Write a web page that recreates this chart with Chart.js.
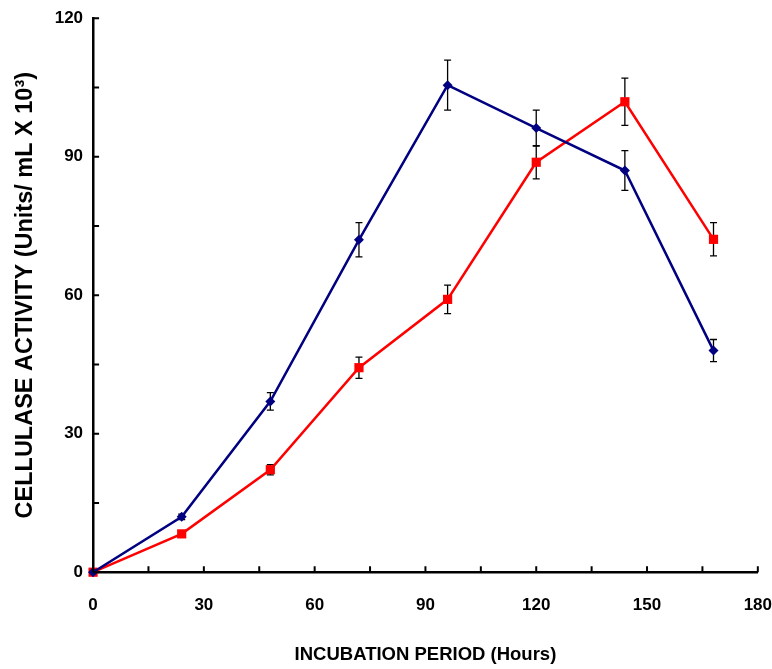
<!DOCTYPE html>
<html>
<head>
<meta charset="utf-8">
<script src="https://cdn.jsdelivr.net/npm/chart.js@4/dist/chart.umd.min.js"></script>
<style>
  html, body { margin: 0; padding: 0; background: #fff; }
  #wrap { width: 772px; height: 669px; }
</style>
</head>
<body>
<div id="wrap"><canvas id="activityChart" width="772" height="669"></canvas></div>
<script>
// Incubation time (hours)
const hours = [0, 24, 48, 72, 96, 120, 144, 168];

// Cellulase activity, two series with their error bars
const blueActivity = [0, 12, 37, 72, 105.5, 96.2, 87, 48];
const blueError = [0, 0.6, 1.9, 3.7, 5.4, 3.9, 4.3, 2.4];
const redActivity = [0, 8.3, 22.2, 44.3, 59.1, 88.8, 101.9, 72.1];
const redError = [0, 0.4, 1.1, 2.3, 3.1, 3.6, 5.1, 3.6];

// Axis ticks
const xTickLabels = [0, 30, 60, 90, 120, 150, 180];
const yTickLabels = [0, 30, 60, 90, 120];

const tickFont = { family: "'Liberation Sans', Arial, sans-serif", size: 17, weight: 'bold' };

function toPoints(values) {
    return hours.map((h, i) => ({ x: h, y: values[i] }));
}

// Error bars drawn behind the markers
const errorBars = {
    id: 'errorBars',
    beforeDatasetsDraw(chart) {
        const ctx = chart.ctx;
        const xs = chart.scales.x;
        const ys = chart.scales.y;
        const errs = [blueError, redError];
        ctx.save();
        ctx.strokeStyle = '#000';
        ctx.lineWidth = 1.3;
        chart.data.datasets.forEach((ds, d) => {
            ds.data.forEach((pt, i) => {
                const e = errs[d][i];
                if (!e) return;
                const px = xs.getPixelForValue(pt.x);
                const top = ys.getPixelForValue(pt.y + e);
                const bot = ys.getPixelForValue(pt.y - e);
                ctx.beginPath();
                ctx.moveTo(px, top); ctx.lineTo(px, bot);
                ctx.moveTo(px - 3.5, top); ctx.lineTo(px + 3.5, top);
                ctx.moveTo(px - 3.5, bot); ctx.lineTo(px + 3.5, bot);
                ctx.stroke();
            });
        });
        ctx.restore();
    }
};

// Tick marks pointing into the plot
const innerTicks = {
    id: 'innerTicks',
    afterDraw(chart) {
        const ctx = chart.ctx;
        const xs = chart.scales.x;
        const ys = chart.scales.y;
        const area = chart.chartArea;
        ctx.save();
        ctx.strokeStyle = '#000';
        ctx.lineWidth = 2;
        ctx.beginPath();
        xs.ticks.forEach(t => {
            const px = xs.getPixelForValue(t.value);
            ctx.moveTo(px, area.bottom);
            ctx.lineTo(px, area.bottom - 6);
        });
        ys.ticks.forEach(t => {
            const py = ys.getPixelForValue(t.value);
            ctx.moveTo(area.left, py);
            ctx.lineTo(area.left + 6, py);
        });
        ctx.stroke();
        ctx.restore();
    }
};

new Chart(document.getElementById('activityChart'), {
    type: 'line',
    data: {
        datasets: [{
            data: toPoints(blueActivity),
            borderColor: '#000080',
            backgroundColor: '#000080',
            borderWidth: 2.5,
            pointStyle: 'rectRot',
            pointRadius: 5,
            pointBorderWidth: 0,
            clip: false
        }, {
            data: toPoints(redActivity),
            borderColor: '#ff0000',
            backgroundColor: '#ff0000',
            borderWidth: 2.5,
            pointStyle: 'rect',
            pointRadius: 6.5,
            pointBorderWidth: 0,
            clip: false
        }]
    },
    options: {
        responsive: false,
        animation: false,
        layout: { padding: 0 },
        plugins: {
            legend: { display: false },
            tooltip: { enabled: false }
        },
        scales: {
            x: {
                type: 'linear',
                min: 0,
                max: 180,
                grid: { display: false, drawTicks: true, tickLength: 23 },
                border: { display: true, color: '#000', width: 2.5 },
                ticks: {
                    stepSize: 15,
                    autoSkip: false,
                    maxRotation: 0,
                    padding: 0,
                    color: '#000',
                    font: tickFont,
                    callback: v => xTickLabels.includes(v) ? String(v) : ''
                },
                title: {
                    display: true,
                    text: 'INCUBATION PERIOD (Hours)',
                    color: '#000',
                    font: { family: "'Liberation Sans', Arial, sans-serif", size: 18.5, weight: 'bold' },
                    padding: { top: 28.2, bottom: 3 }
                }
            },
            y: {
                min: 0,
                max: 120,
                grid: { display: false, drawTicks: true, tickLength: 2 },
                border: { display: true, color: '#000', width: 2.5 },
                ticks: {
                    stepSize: 15,
                    autoSkip: false,
                    padding: 8,
                    color: '#000',
                    font: tickFont,
                    callback: v => yTickLabels.includes(v) ? String(v) : ''
                },
                title: {
                    display: true,
                    text: 'CELLULASE ACTIVITY (Units/ mL X 10³)',
                    color: '#000',
                    font: { family: "'Liberation Sans', Arial, sans-serif", size: 23.5, weight: 'bold' },
                    padding: { top: 11.5, bottom: 7 }
                }
            }
        }
    },
    plugins: [errorBars, innerTicks]
});
</script>
</body>
</html>
